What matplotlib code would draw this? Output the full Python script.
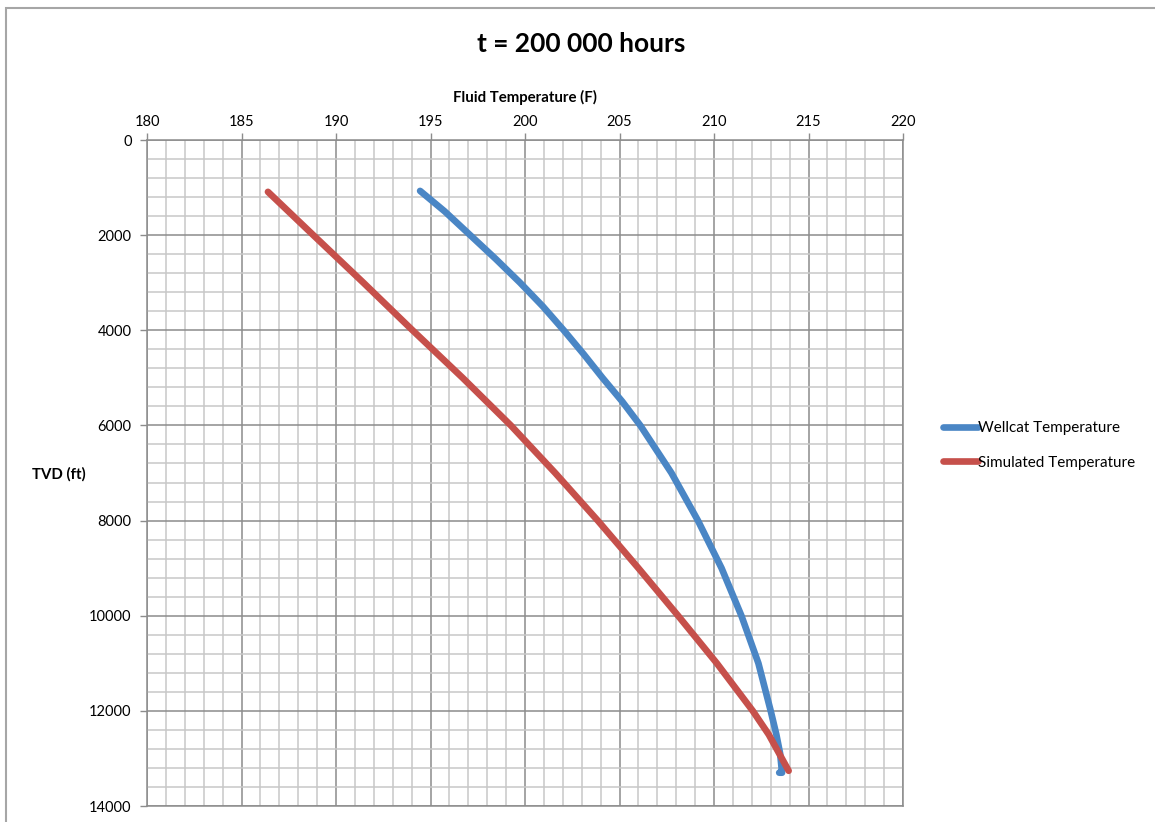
import matplotlib
matplotlib.use("Agg")
import matplotlib.pyplot as plt
from matplotlib.patches import Rectangle
from matplotlib.ticker import MultipleLocator

plt.rcParams['font.family'] = ['Lato', 'DejaVu Sans']

title = "t = 200 000 hours"
x_label = "Fluid Temperature (F)"
y_label = "TVD (ft)"

wellcat_depth = [1070, 1500, 2000, 2500, 3000, 3500, 4000, 4500, 5000, 5500, 6000,
                 7000, 8000, 9000, 10000, 11000, 12000, 12500, 12900, 13300, 13300]
wellcat_temp = [194.45, 195.75, 197.1, 198.45, 199.74, 200.95, 202.05, 203.1, 204.1,
                205.15, 206.1, 207.75, 209.15, 210.4, 211.45, 212.35, 213.0, 213.3,
                213.5, 213.6, 213.45]

sim_depth = [1090, 2000, 3000, 4000, 5000, 6000, 7000, 8000, 9000, 10000,
             11000, 12000, 12500, 13260]
sim_temp = [186.4, 188.8, 191.45, 194.05, 196.7, 199.25, 201.6, 203.85, 206.0,
            208.1, 210.15, 212.05, 212.9, 213.95]

series_names = ["Wellcat Temperature", "Simulated Temperature"]
series_colors = ["#4A86C5", "#C6504B"]

W, H = 1155, 822
fig = plt.figure(figsize=(W / 100, H / 100), dpi=100)
fig.patch.set_facecolor("white")

# outer chart border (cropped on right and bottom)
fig.add_artist(Rectangle((6 / W, -0.1), 1.2, 1 - 8 / H + 0.1,
                         transform=fig.transFigure, fill=False,
                         edgecolor="#a6a6a6", linewidth=1.5))

left, right, top, bottom = 147, 903, 140, 806
ax = fig.add_axes([left / W, 1 - bottom / H, (right - left) / W, (bottom - top) / H])

ax.plot(wellcat_temp, wellcat_depth, color=series_colors[0], lw=4.8,
        solid_capstyle="round", solid_joinstyle="round", label=series_names[0], zorder=3)
ax.plot(sim_temp, sim_depth, color=series_colors[1], lw=4.8,
        solid_capstyle="round", solid_joinstyle="round", label=series_names[1], zorder=4)

ax.set_xlim(180, 220)
ax.set_ylim(14000, 0)
ax.xaxis.set_major_locator(MultipleLocator(5))
ax.xaxis.set_minor_locator(MultipleLocator(1))
ax.yaxis.set_major_locator(MultipleLocator(2000))
ax.yaxis.set_minor_locator(MultipleLocator(400))

ax.grid(which="major", color="#8c8c8c", lw=1.1)
ax.grid(which="minor", color="#c8c8c8", lw=1.1)
ax.set_axisbelow(True)

ax.xaxis.tick_top()
ax.xaxis.set_label_position("top")
ax.tick_params(axis="x", which="major", direction="out", length=5, width=1,
               color="#8c8c8c", labelsize=10.5, pad=3, top=True, bottom=False)
ax.tick_params(axis="y", which="major", direction="out", length=5, width=1,
               color="#8c8c8c", labelsize=10.5, pad=6)
ax.tick_params(which="minor", length=0)

for s in ax.spines.values():
    s.set_color("#8c8c8c")
    s.set_linewidth(1.1)

ax.set_xlabel(x_label, fontsize=10.8, fontweight="bold")
ax.xaxis.set_label_coords(0.5, (bottom - 97) / (bottom - top))
ax.xaxis.label.set_va("center")
ax.set_ylabel(y_label, fontsize=10.8, fontweight="bold", rotation=0)
ax.yaxis.set_label_coords((59 - left) / (right - left), (bottom - 474) / (bottom - top))
ax.yaxis.label.set_ha("center")
ax.yaxis.label.set_va("center")

fig.text(581 / W, 1 - 44 / H, title, ha="center", va="center",
         fontsize=19, fontweight="bold")

leg = fig.legend(loc="upper left", bbox_to_anchor=(943 / W, 1 - 421 / H),
                 bbox_transform=fig.transFigure, frameon=False, fontsize=11,
                 handlelength=2.3, handletextpad=0.0, labelspacing=1.35,
                 borderpad=0, borderaxespad=0)

fig.savefig("out.png", dpi=100, facecolor="white")
